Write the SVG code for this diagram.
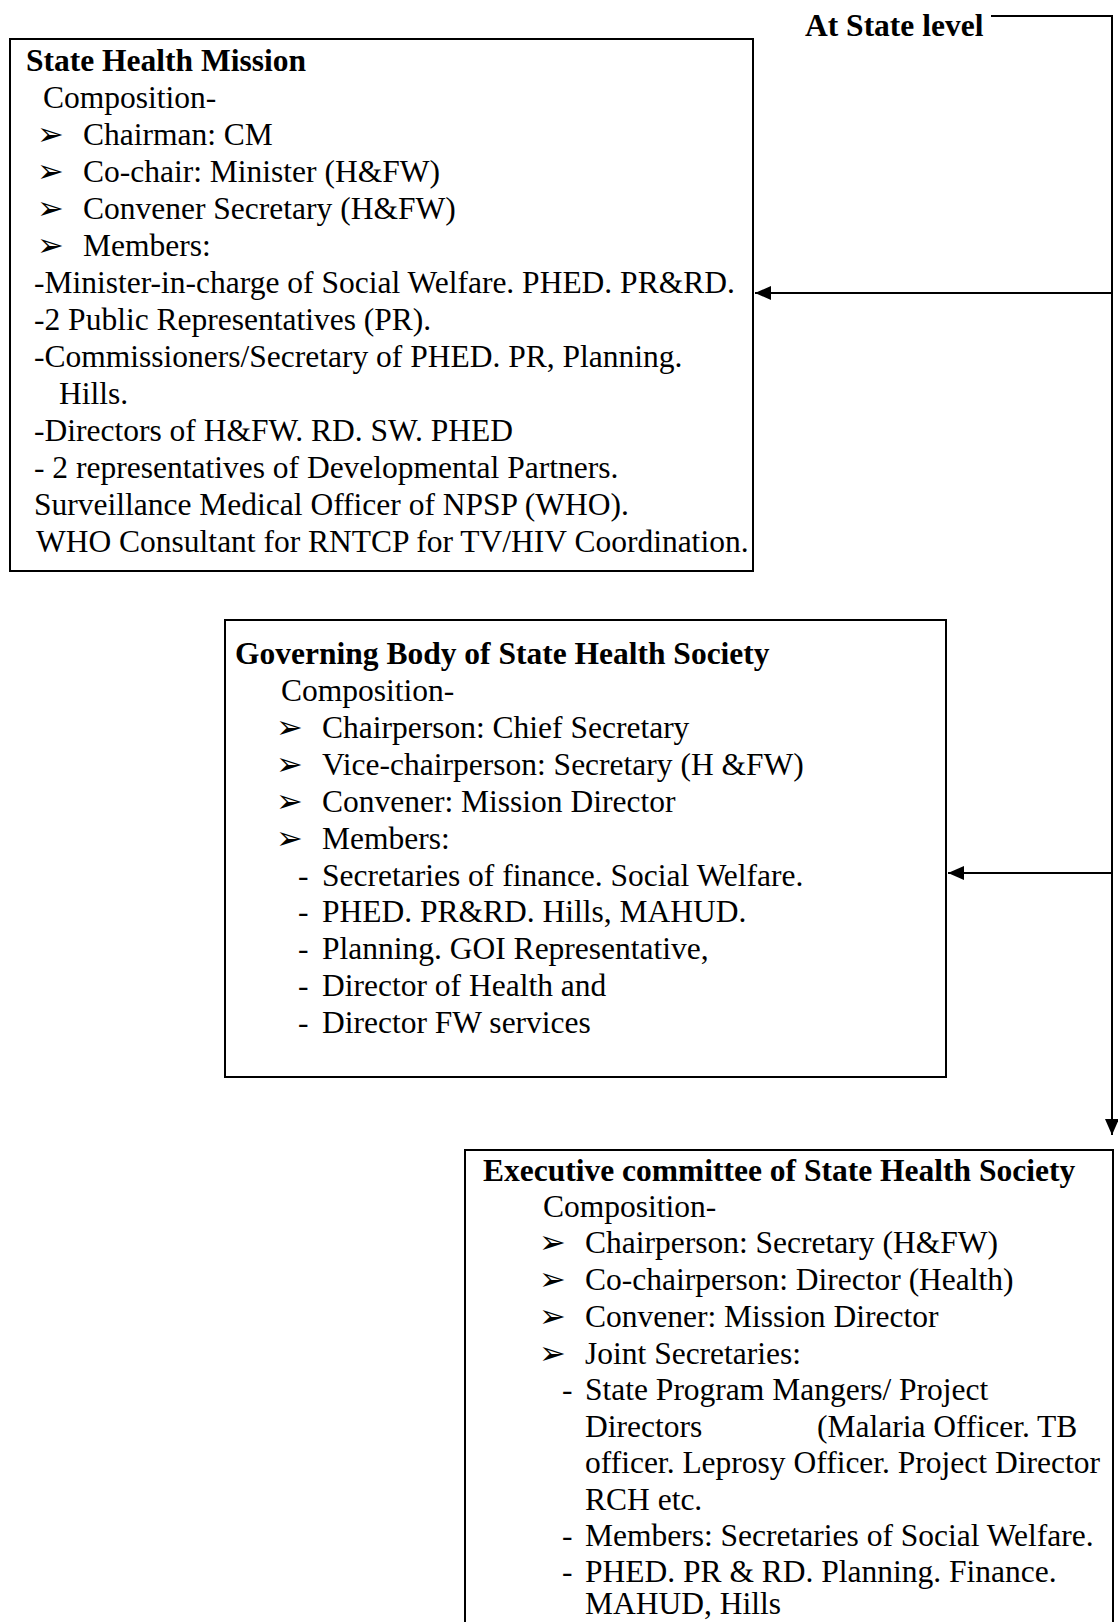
<svg xmlns="http://www.w3.org/2000/svg" width="1118" height="1622" viewBox="0 0 1118 1622">
<style>
.box{fill:none;stroke:#000;stroke-width:2}
.ln{fill:none;stroke:#000;stroke-width:2}
text{font-family:"Liberation Serif","Times New Roman",serif;font-size:31.5px;fill:#000}
.b{font-weight:bold}
</style>
<defs>
<marker id="ah" viewBox="0 0 16 14" refX="16" refY="7" markerWidth="16" markerHeight="14" markerUnits="userSpaceOnUse" orient="auto">
<path d="M0,0 L16,7 L0,14 Z" fill="#000"/>
</marker>
</defs>
<rect width="1118" height="1622" fill="#fff"/>
<text class="b" x="805" y="36">At State level</text>
<g id="connectors">
<path class="ln" d="M991,16 H1112 V1135" marker-end="url(#ah)"/>
<path class="ln" d="M1112,293 H755" marker-end="url(#ah)"/>
<path class="ln" d="M1112,873 H948" marker-end="url(#ah)"/>
</g>
<g id="state-health-mission">
<rect class="box" x="10" y="39" width="743" height="532"/>
<text class="b" x="26" y="71">State Health Mission</text>
<text x="43" y="108">Composition-</text>
<text x="37" y="145">➢</text><text x="83" y="145">Chairman: CM</text>
<text x="37" y="182">➢</text><text x="83" y="182">Co-chair: Minister (H&amp;FW)</text>
<text x="37" y="219">➢</text><text x="83" y="219">Convener  Secretary (H&amp;FW)</text>
<text x="37" y="256">➢</text><text x="83" y="256">Members:</text>
<text x="34" y="293">-Minister-in-charge of Social Welfare. PHED. PR&amp;RD.</text>
<text x="34" y="330">-2 Public Representatives (PR).</text>
<text x="34" y="367">-Commissioners/Secretary of PHED. PR, Planning.</text>
<text x="59" y="404">Hills.</text>
<text x="34" y="441">-Directors of H&amp;FW. RD. SW. PHED</text>
<text x="34" y="478">- 2 representatives of Developmental Partners.</text>
<text x="34" y="515">Surveillance Medical Officer of NPSP (WHO).</text>
<text x="36" y="552">WHO Consultant for RNTCP for TV/HIV Coordination.</text>
</g>
<g id="governing-body">
<rect class="box" x="225" y="620" width="721" height="457"/>
<text class="b" x="235" y="664">Governing Body of State Health Society</text>
<text x="281" y="701">Composition-</text>
<text x="276" y="738">➢</text><text x="322" y="738">Chairperson: Chief Secretary</text>
<text x="276" y="775">➢</text><text x="322" y="775">Vice-chairperson: Secretary (H &amp;FW)</text>
<text x="276" y="812">➢</text><text x="322" y="812">Convener: Mission Director</text>
<text x="276" y="849">➢</text><text x="322" y="849">Members:</text>
<text x="298" y="886">-</text><text x="322" y="886">Secretaries of finance. Social Welfare.</text>
<text x="298" y="922">-</text><text x="322" y="922">PHED. PR&amp;RD. Hills, MAHUD.</text>
<text x="298" y="959">-</text><text x="322" y="959">Planning. GOI Representative,</text>
<text x="298" y="996">-</text><text x="322" y="996">Director of Health and</text>
<text x="298" y="1033">-</text><text x="322" y="1033">Director FW services</text>
</g>
<g id="executive-committee">
<rect class="box" x="465" y="1150" width="648" height="500"/>
<text class="b" x="483" y="1181">Executive committee of State Health Society</text>
<text x="543" y="1217">Composition-</text>
<text x="539" y="1253">➢</text><text x="585" y="1253">Chairperson: Secretary (H&amp;FW)</text>
<text x="539" y="1290">➢</text><text x="585" y="1290">Co-chairperson: Director (Health)</text>
<text x="539" y="1327">➢</text><text x="585" y="1327">Convener: Mission Director</text>
<text x="539" y="1364">➢</text><text x="585" y="1364">Joint Secretaries:</text>
<text x="562" y="1400">-</text><text x="585" y="1400">State Program Mangers/ Project</text>
<text x="585" y="1437">Directors</text><text x="817" y="1437">(Malaria Officer. TB</text>
<text x="585" y="1473">officer. Leprosy Officer. Project Director</text>
<text x="585" y="1510">RCH etc.</text>
<text x="562" y="1546">-</text><text x="585" y="1546">Members: Secretaries of Social Welfare.</text>
<text x="562" y="1582">-</text><text x="585" y="1582">PHED. PR &amp; RD. Planning. Finance.</text>
<text x="585" y="1614">MAHUD, Hills</text>
</g>
</svg>
